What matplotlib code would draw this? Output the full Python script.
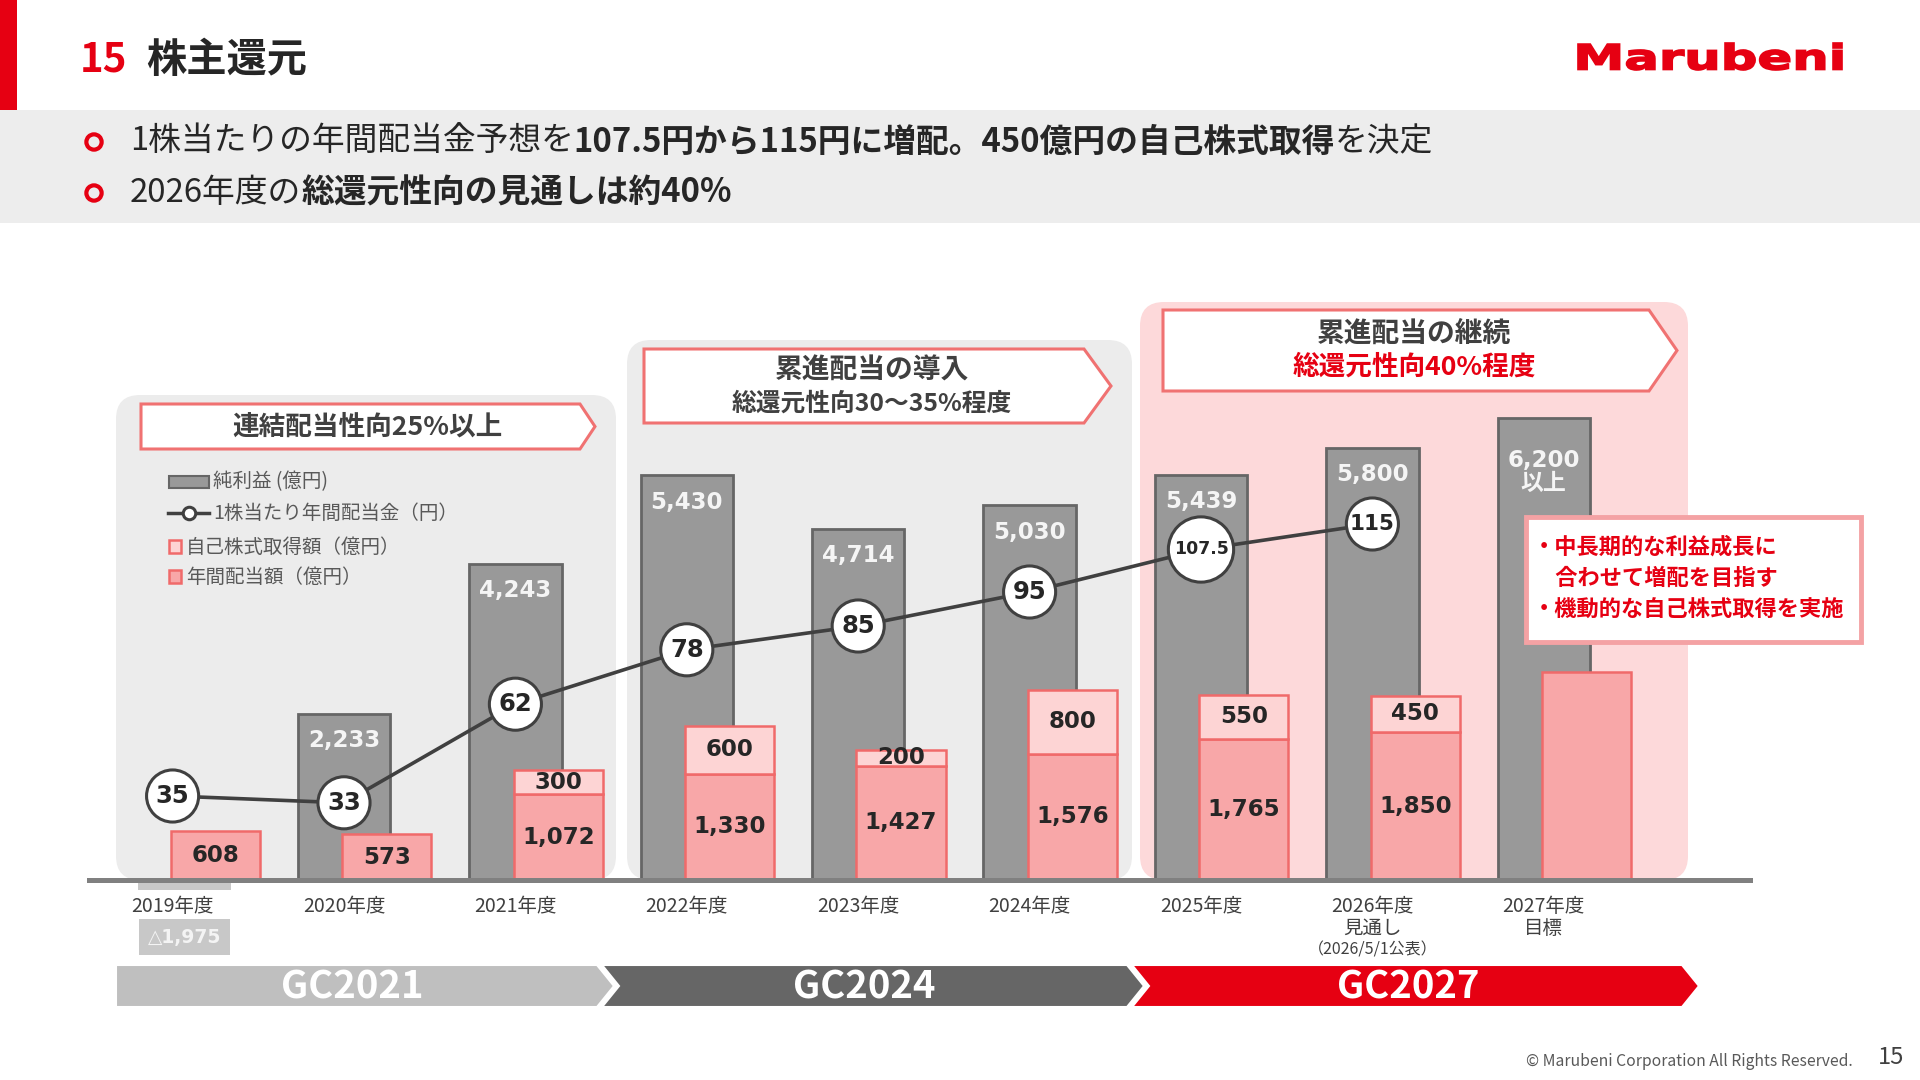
"""
株主還元 (Marubeni) スライドの再現
"""
import numpy as np
import matplotlib as mpl
mpl.use('Agg')
import matplotlib.pyplot as plt
from matplotlib.patches import Polygon, FancyBboxPatch, Rectangle, PathPatch
from matplotlib.textpath import TextPath
from matplotlib.font_manager import FontProperties
from matplotlib.transforms import Affine2D

mpl.rcParams['font.family'] = ['Noto Sans CJK JP', 'DejaVu Sans']
NUM = ['DejaVu Sans']   # 数値ラベル用(幅広の字形)

# ---- data ----
years = ['2019年度', '2020年度', '2021年度', '2022年度', '2023年度', '2024年度',
         '2025年度', '2026年度\n見通し\n（2026/5/1公表）', '2027年度\n目標']
net_income = [-1975, 2233, 4243, 5430, 4714, 5030, 5439, 5800, 6200]   # 純利益(億円)
net_note = ['', '', '', '', '', '', '', '', '以上']
dividend = [608, 573, 1072, 1330, 1427, 1576, 1765, 1850, 2600]        # 年間配当額(億円), 2027は目盛り読み
buyback = [0, 0, 300, 600, 200, 800, 550, 450, 0]                     # 自己株式取得額(億円)
dps = [35, 33, 62, 78, 85, 95, 107.5, 115]                            # 1株当たり年間配当金(円)

W, H = 1920, 1080
RED = '#e60012'
DARK = '#404040'

fig = plt.figure(figsize=(19.2, 10.8), dpi=100, facecolor='white')
bg = fig.add_axes([0, 0, 1, 1], zorder=-1)
bg.set_xlim(0, W)
bg.set_ylim(H, 0)
bg.axis('off')
fg = fig.add_axes([0, 0, 1, 1], zorder=10)
fg.set_xlim(0, W)
fg.set_ylim(H, 0)
fg.axis('off')
fg.set_facecolor('none')
rend = fig.canvas.get_renderer()


def runs(axh, x, y, parts, size):
    # 太字/通常の混在テキストを左から順に並べる
    for s, w, c in parts:
        t = axh.text(x, y, s, fontsize=size, fontweight=w, color=c, va='center', ha='left')
        x += t.get_window_extent(renderer=rend).width


# ---- header ----
bg.add_patch(Rectangle((0, 0), 17, 110, color=RED, lw=0))
bg.add_patch(Rectangle((0, 110), W, 113, color='#ededed', lw=0))
runs(bg, 80, 60, [('15', 'bold', RED)], 29)
runs(bg, 146, 60, [('株主還元', 'bold', '#262626')], 29)

fp = FontProperties(family='DejaVu Sans', weight='bold')
tp = TextPath((0, 0), 'Marubeni', size=1, prop=fp)
ext = tp.get_extents()
tr = Affine2D().translate(-ext.x0, -ext.y0).scale(264 / ext.width, -27 / ext.height).translate(1578, 70)
bg.add_patch(PathPatch(tp, transform=tr + bg.transData, fc=RED, ec=RED, lw=1.2))

bg.scatter([94, 94], [142, 193], s=11 ** 2, facecolors='none', edgecolors=RED, linewidths=3)
runs(bg, 130, 142, [('1株当たりの年間配当金予想を', 'normal', '#262626'),
                    ('107.5円から115円に増配。450億円の自己株式取得', 'bold', '#262626'),
                    ('を決定', 'normal', '#262626')], 23.6)
runs(bg, 130, 193, [('2026年度の', 'normal', '#262626'),
                    ('総還元性向の見通しは約40%', 'bold', '#262626')], 23.6)

# ---- background panels ----
for x0, y0, x1, c in [(116, 395, 616, '#ececec'), (627, 340, 1132, '#ececec'), (1140, 302, 1688, '#fdd9da')]:
    bg.add_patch(FancyBboxPatch((x0, y0), x1 - x0, 880 - y0, boxstyle='round,pad=0,rounding_size=24',
                                fc=c, ec='none'))


def arrow_box(x0, x1, tip, y0, y1):
    bg.add_patch(Polygon([(x0, y0), (x1, y0), (tip, (y0 + y1) / 2), (x1, y1), (x0, y1)],
                         closed=True, fc='white', ec='#f07272', lw=2.2))


arrow_box(141, 580, 595, 404, 449)
bg.text(367, 427, '連結配当性向25%以上', fontsize=19.2, fontweight='bold', color=DARK, ha='center', va='center')
arrow_box(644, 1084, 1111, 349, 423)
bg.text(872, 371, '累進配当の導入', fontsize=20, fontweight='bold', color=DARK, ha='center', va='center')
bg.text(872, 404, '総還元性向30～35%程度', fontsize=17.8, fontweight='bold', color=DARK, ha='center', va='center')
arrow_box(1163, 1649, 1677, 310, 391)
bg.text(1414, 334, '累進配当の継続', fontsize=20, fontweight='bold', color=DARK, ha='center', va='center')
bg.text(1414, 367, '総還元性向40%程度', fontsize=19.2, fontweight='bold', color=RED, ha='center', va='center')

# ---- legend ----
LG = '#595959'
bg.add_patch(Rectangle((169, 476), 40, 12, fc='#999999', ec='#666666', lw=1.5))
bg.text(213, 482, '純利益 (億円)', fontsize=14, color=LG, va='center')
bg.plot([168, 209], [513, 513], color=DARK, lw=2.5)
bg.plot([189], [513], 'o', ms=9, mfc='white', mec=DARK, mew=2.2)
bg.text(213, 513, '1株当たり年間配当金（円）', fontsize=14, color=LG, va='center')
bg.add_patch(Rectangle((169, 540), 12, 13, fc='#fdd4d4', ec='#f06a6a', lw=1.8))
bg.text(186, 547, '自己株式取得額（億円）', fontsize=14, color=LG, va='center')
bg.add_patch(Rectangle((169, 570), 12, 13, fc='#f8a7a8', ec='#f06a6a', lw=1.8))
bg.text(186, 577, '年間配当額（億円）', fontsize=14, color=LG, va='center')

# ---- chart axes ----
x0p, x1p, top_p, bot_p, base_p = 87, 1753, 300, 890, 880
rect = [x0p / W, 1 - bot_p / H, (x1p - x0p) / W, (bot_p - top_p) / H]
ax = fig.add_axes(rect, zorder=1)
ax_p = fig.add_axes(rect, sharex=ax, zorder=2)
ax_l = fig.add_axes(rect, sharex=ax, zorder=3)
for a in (ax, ax_p, ax_l):
    a.set_facecolor('none')
    a.axis('off')

gray_k, pink_k = 0.0745, 0.080      # px / 億円 (スライドの描画比率)
dps_zero, dps_k = 915, 3.4          # 配当金ラインの0点と px / 円
slot, first = 171.4, 172.6
ax.set_xlim((x0p - first) / slot, (x1p - first) / slot)
ax.set_ylim(-(bot_p - base_p) / gray_k, (base_p - top_p) / gray_k)
ax_p.set_ylim(-(bot_p - base_p) / pink_k, (base_p - top_p) / pink_k)
ax_l.set_ylim((dps_zero - bot_p) / dps_k, (dps_zero - top_p) / dps_k)

x = np.arange(len(years))
gx = np.array([xi + 0.07 if v < 0 else xi for xi, v in zip(x, net_income)], dtype=float)
gcol = ['#c8c8c8' if v < 0 else '#999999' for v in net_income]
gedge = ['none' if v < 0 else '#666666' for v in net_income]
ax.bar(gx, net_income, width=0.54, color=gcol, edgecolor=gedge, linewidth=2)
for xi, v, note in zip(gx, net_income, net_note):
    if v < 0:
        ax.annotate('△{:,}'.format(-v), xy=(xi, 0), xytext=(0, -57 * 0.72), textcoords='offset points',
                    ha='center', va='center', fontsize=13.5, fontweight='bold', color='#f4f4f4',
                    family=NUM, bbox=dict(boxstyle='square,pad=0.45', fc='#c8c8c8', ec='none'),
                    annotation_clip=False)
        continue
    lab = '{:,}'.format(v) + ('\n' + note if note else '')
    off = -54 if note else -27
    ax.annotate(lab, xy=(xi, v), xytext=(0, off * 0.72), textcoords='offset points', ha='center',
                va='center', fontsize=16.5, fontweight='bold', color='#f5f5f5', linespacing=1.0,
                family=['DejaVu Sans', 'Noto Sans CJK JP'])

# 年度ラベル
for xi, lab in zip(x, years):
    for j, line in enumerate(lab.split('\n')):
        fs = 11.5 if line.startswith('（') else 14
        ax.annotate(line, xy=(xi, 0), xytext=(0, -(26 + 22 * j) * 0.72), textcoords='offset points',
                    ha='center', va='center', fontsize=fs, color=DARK, annotation_clip=False)

# 配当額 + 自己株式取得
px = x + 0.25
ax_p.bar(px, dividend, width=0.52, color='#f8a7a8', edgecolor='#f06a6a', linewidth=1.8)
bb_idx = [i for i, v in enumerate(buyback) if v > 0]
ax_p.bar(px[bb_idx], [buyback[i] for i in bb_idx], bottom=[dividend[i] for i in bb_idx], width=0.52,
         color='#fdd4d4', edgecolor='#f06a6a', linewidth=1.8)
for i in range(len(dividend) - 1):   # 2027年度目標は数値なし
    ax_p.text(px[i], dividend[i] / 2, '{:,}'.format(dividend[i]), ha='center', va='center',
              fontsize=16.5, fontweight='bold', color='#262626', family=NUM)
for i in bb_idx:
    ax_p.text(px[i], dividend[i] + buyback[i] / 2, '{:,}'.format(buyback[i]), ha='center', va='center',
              fontsize=16.5, fontweight='bold', color='#262626', family=NUM)
ax_p.axhline(0, color='#808080', lw=3.6, zorder=5)

# 1株当たり配当金
xl = x[:len(dps)]
ax_l.plot(xl, dps, color=DARK, lw=2.6, zorder=1)
labs = ['{:g}'.format(v) for v in dps]
sizes = [(47 if '.' in s else 37.5) ** 2 for s in labs]
ax_l.scatter(xl, dps, s=sizes, facecolors='white', edgecolors=DARK, linewidths=2.2, zorder=2)
for xi, v, s in zip(xl, dps, labs):
    fs = 12.5 if '.' in s else (15.5 if len(s) == 3 else 17.5)
    ax_l.text(xi, v, s, ha='center', va='center', fontsize=fs, fontweight='bold', color='#262626',
              family=NUM, zorder=3)

# ---- note box ----
fg.add_patch(Rectangle((1526, 517), 335, 125, fc='white', ec='#f4a2a4', lw=3.5))
fg.text(1533, 547, '・中長期的な利益成長に', fontsize=16, fontweight='bold', color=RED, va='center')
fg.text(1533, 578, '　合わせて増配を目指す', fontsize=16, fontweight='bold', color=RED, va='center')
fg.text(1533, 610, '・機動的な自己株式取得を実施', fontsize=16, fontweight='bold', color=RED, va='center')

# ---- GC arrows ----
gc = [('GC2021', '#bfbfbf', [(116, 965), (597, 965), (614, 986), (597, 1007), (116, 1007)], 352),
      ('GC2024', '#666666', [(602, 965), (1127, 965), (1144, 986), (1127, 1007), (602, 1007), (619, 986)], 864),
      ('GC2027', RED, [(1132, 965), (1682, 965), (1699, 986), (1682, 1007), (1132, 1007), (1149, 986)], 1408)]
for name, c, pts, cx in gc:
    bg.add_patch(Polygon(pts, closed=True, fc=c, ec='white', lw=1.5))
    bg.text(cx, 987, name, fontsize=27.5, fontweight='bold', color='white', ha='center', va='center')

# ---- footer ----
bg.text(1853, 1062, '© Marubeni Corporation All Rights Reserved.', fontsize=11.3, color='#595959',
        ha='right', va='center')
bg.text(1904, 1058, '15', fontsize=17, color=DARK, ha='right', va='center')

fig.savefig('out.png', dpi=100)
